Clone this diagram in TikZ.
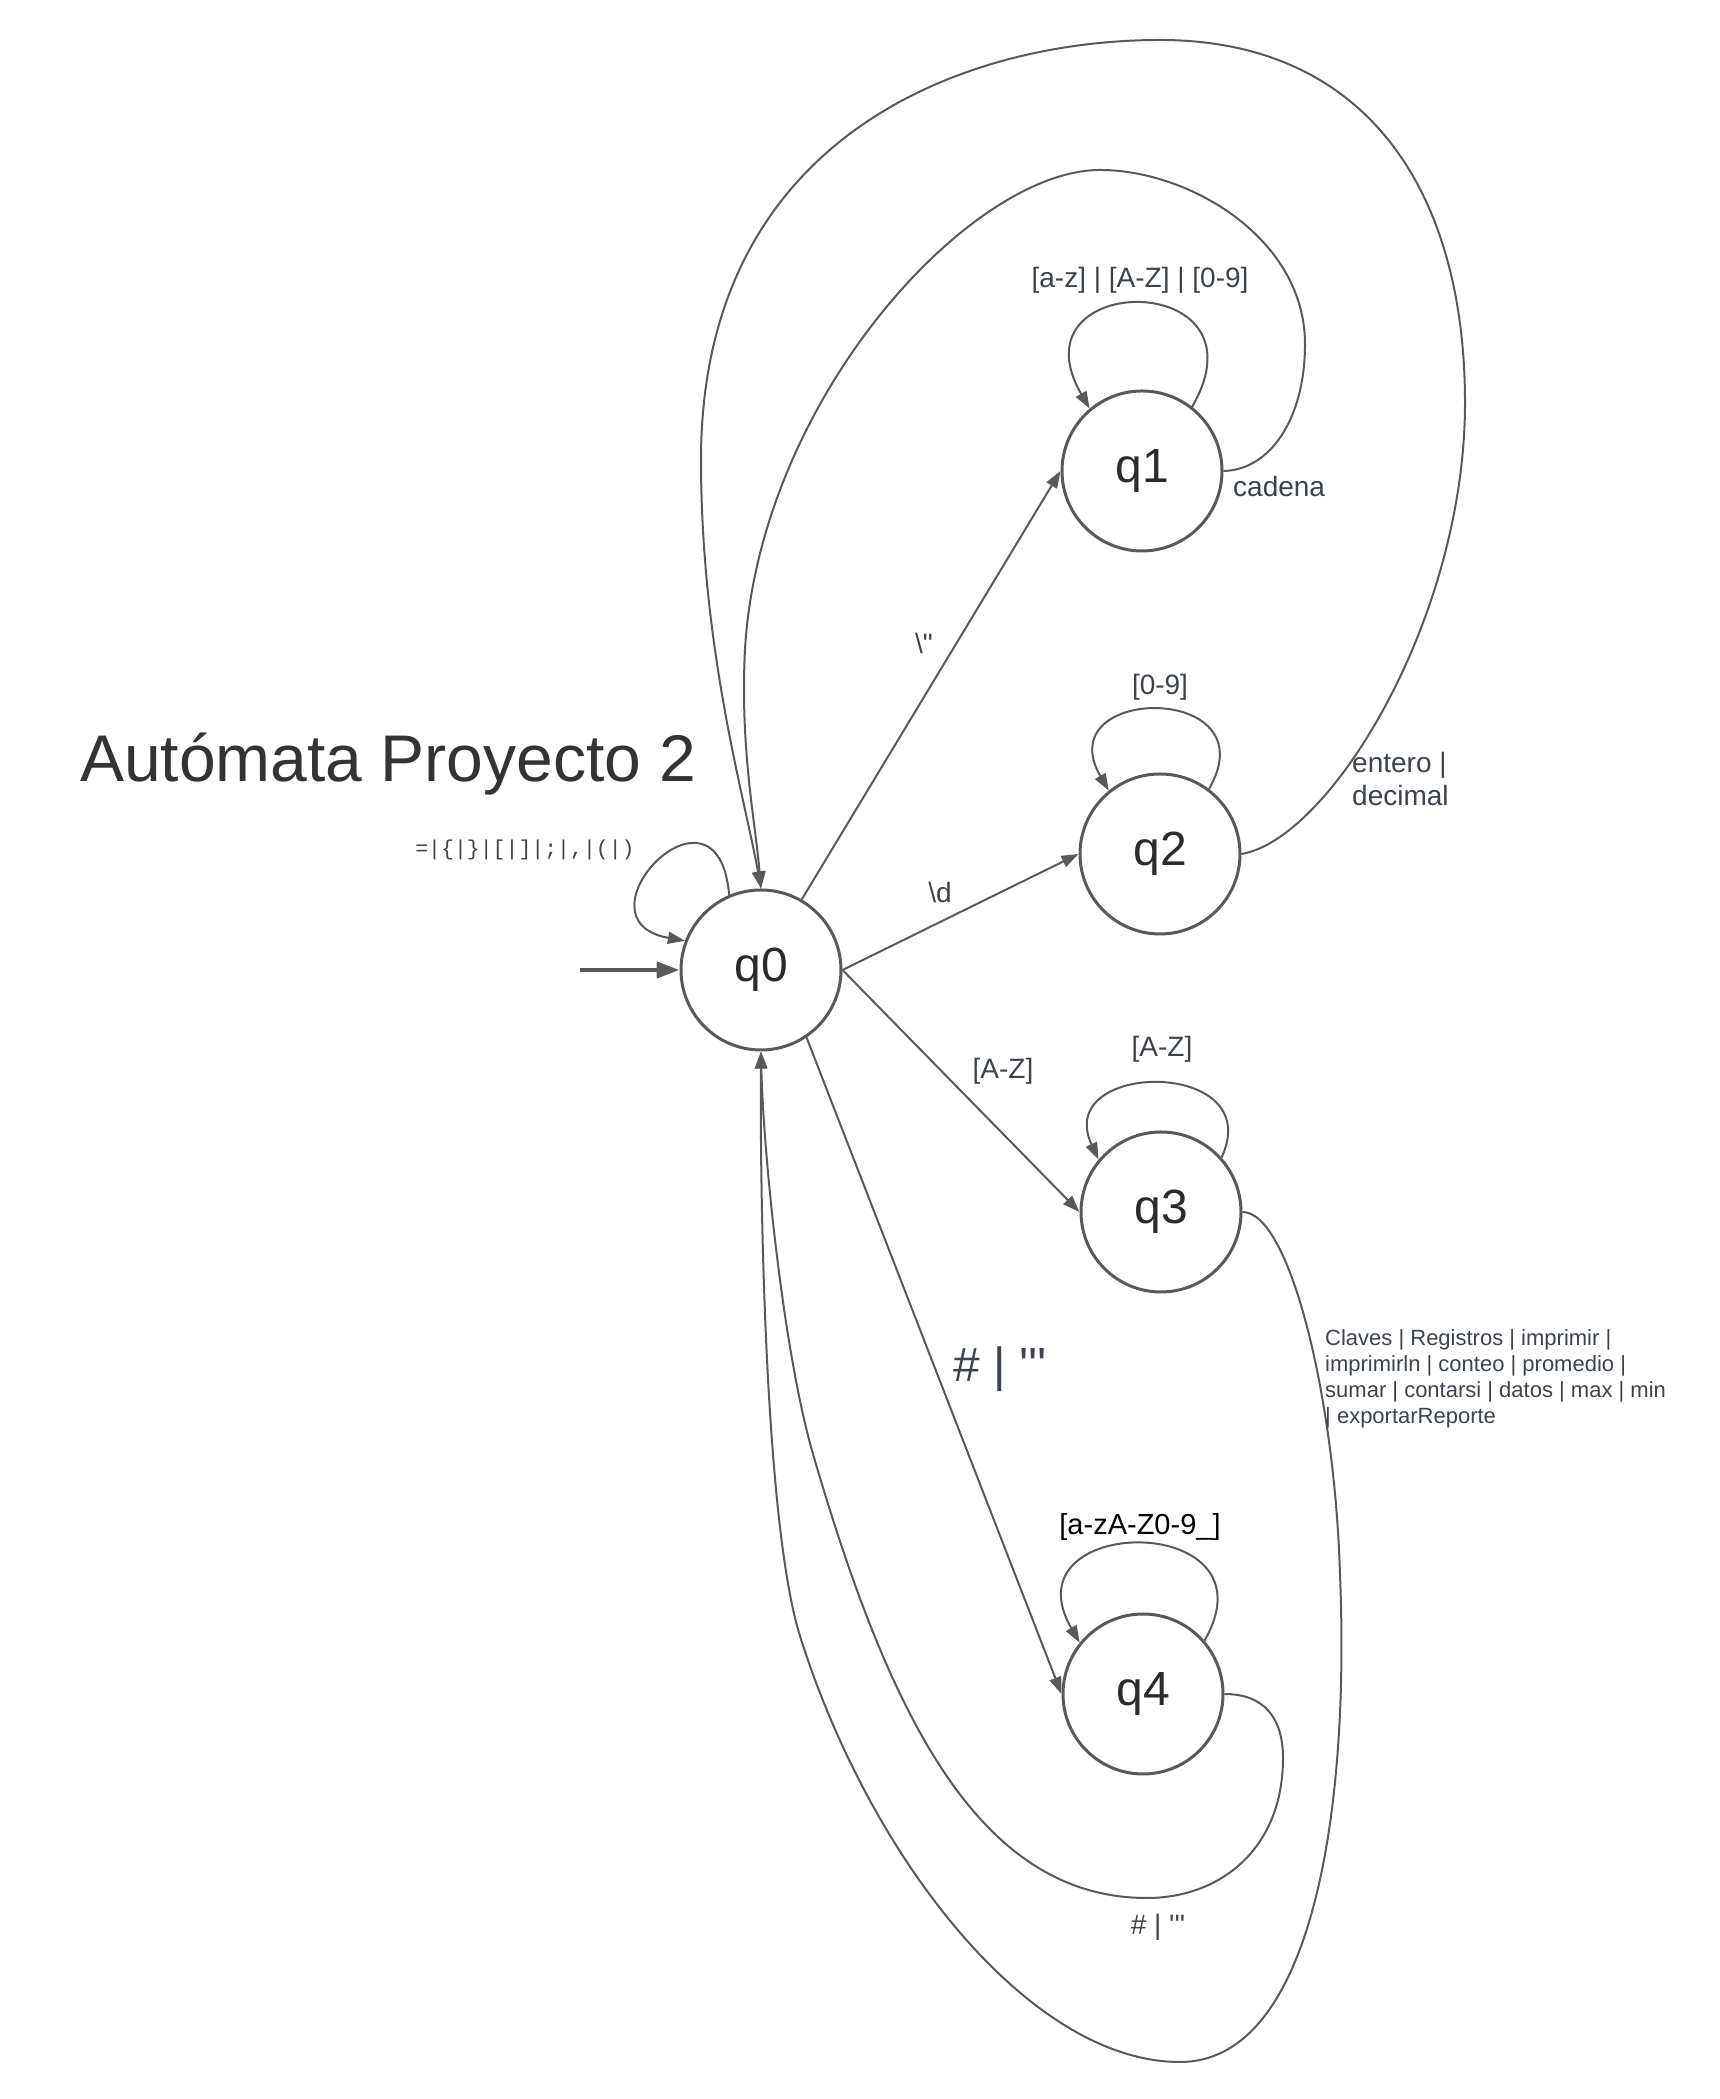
\documentclass[tikz,border=0pt]{standalone}
\usepackage{fontspec}
\newfontfamily\lab{Liberation Sans}
\newfontfamily\labmono{Liberation Mono}
\usetikzlibrary{arrows.meta}
\definecolor{ln}{HTML}{595959}
\definecolor{tx}{HTML}{3D434B}
\definecolor{qt}{HTML}{2B2B2B}
\definecolor{tt}{HTML}{333333}
\begin{document}
\begin{tikzpicture}[x=1pt,y=1pt,
  state/.style={circle, draw=ln, line width=3pt, minimum size=160pt, inner sep=0pt,
    font=\lab\fontsize{48}{56}\selectfont, text=qt},
  edge/.style={draw=ln, line width=2pt, -{Triangle[length=17pt,width=12pt]}},
  lbl/.style={font=\lab\fontsize{28}{33}\selectfont, text=tx, inner sep=0pt},
  startarrow/.style={draw=ln, line width=4.5pt, -{Triangle[length=23pt,width=16pt]}}]
\useasboundingbox (0,0) rectangle (1720,2099);

% states
\node[state] (q0) at (761,1129) {q0};
\node[state] (q1) at (1142,1628) {q1};
\node[state] (q2) at (1160,1245) {q2};
\node[state] (q3) at (1161,887) {q3};
\node[state] (q4) at (1143,405) {q4};

% title
\node[anchor=base west, inner sep=0pt, font=\lab\fontsize{66}{76}\selectfont, text=tt] (title) at (80,1317) {Autómata Proyecto 2};

% start arrow
\coordinate (s) at (580,1129);
\draw[startarrow] (s) -- (q0.west);

% self loops
\draw[edge] (q0.113) .. controls +(95:132) and +(170:118) .. (q0.159);
\draw[edge] (q1.52) .. controls +(60:160) and +(120:160) .. (q1.130);
\draw[edge] (q2.53) .. controls +(60:123) and +(120:123) .. (q2.129);
\draw[edge] (q3.42) .. controls +(65:110) and +(115:110) .. (q3.140);
\draw[edge] (q4.41) .. controls +(60:150) and +(120:150) .. (q4.141);

% straight transitions
\draw[edge] (q0.60) -- (q1.west);
\draw[edge] (q0.east) -- (q2.west);
\draw[edge] (q0.east) -- (q3.west);
\draw[edge] (q0.-56) -- (q4.west);

% return curves
\draw[edge] (q2.east) .. controls (1330,1260) and (1465,1480) .. (1465,1696)
  .. controls (1465,1910) and (1365,2059) .. (1160,2059)
  .. controls (960,2059) and (701,1960) .. (701,1639)
  .. controls (701,1450) and (745,1300) .. (q0.north);
\draw[edge] (q1.east) .. controls (1270,1629) and (1305,1680) .. (1305,1755)
  .. controls (1305,1860) and (1190,1929) .. (1100,1929)
  .. controls (970,1929) and (760,1700) .. (745,1450)
  .. controls (740,1350) and (755,1280) .. (q0.north);
\draw[edge] (q3.east) .. controls (1290,887) and (1335,700) .. (1340,524)
  .. controls (1350,280) and (1310,37) .. (1180,37)
  .. controls (1030,37) and (870,240) .. (800,463)
  .. controls (765,575) and (760,900) .. (q0.south);
\draw[edge] (q4.east) .. controls (1265,405) and (1283,380) .. (1283,341)
  .. controls (1283,250) and (1220,201) .. (1147,201)
  .. controls (980,201) and (890,380) .. (813,645)
  .. controls (783,748) and (763,950) .. (q0.south);

% labels
\node[lbl, font=\labmono\fontsize{21.5}{24}\selectfont] (l0) at (525,1249) {=|\{|\}|[|]|;|,|(|)};
\node[lbl] (l1) at (1140,1819) {[a-z] | [A-Z] | [0-9]};
\node[lbl, anchor=west] (l2) at (1233,1612) {cadena};
\node[lbl] (l3) at (924,1455) {\textbackslash"};
\node[lbl] (l4) at (1160,1412) {[0-9]};
\node[lbl, anchor=west, align=left] (l5) at (1352,1320) {entero |\\decimal};
\node[lbl] (l6) at (940,1206) {\textbackslash d};
\node[lbl] (l7) at (1003,1028) {[A-Z]};
\node[lbl] (l8) at (1162,1050) {[A-Z]};
\node[lbl, font=\lab\fontsize{48}{56}\selectfont] (l9) at (1000,730) {\# | '''};
\node[lbl, anchor=west, align=left, font=\lab\fontsize{22}{26}\selectfont] (l10) at (1325,720)
  {Claves | Registros | imprimir |\\imprimirln | conteo | promedio |\\sumar | contarsi | datos | max | min\\| exportarReporte};
\node[lbl, text=black, font=\lab\fontsize{29}{34}\selectfont] (l11) at (1140,572) {[a-zA-Z0-9\_]};
\node[lbl] (l12) at (1158,172) {\# | '''};
\end{tikzpicture}
\end{document}
